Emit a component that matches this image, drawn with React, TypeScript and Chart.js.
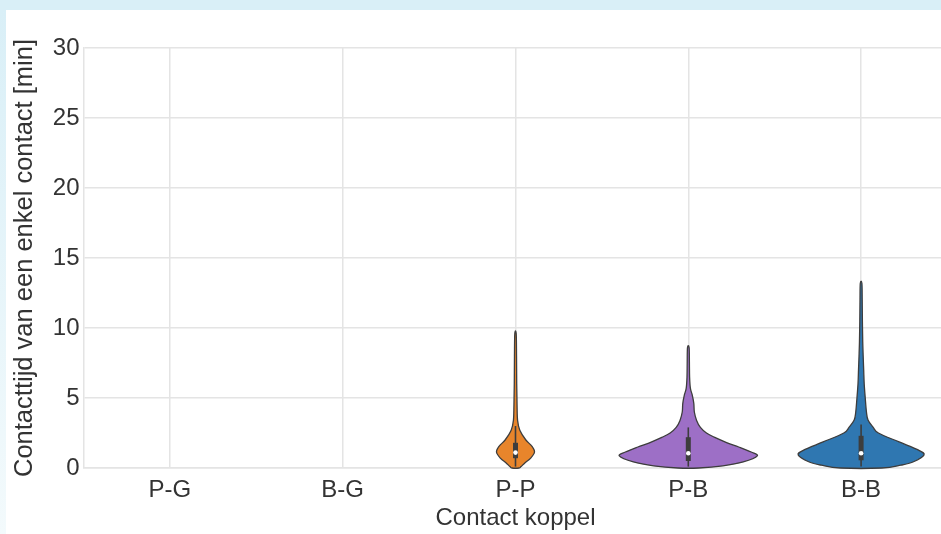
import React, { useEffect, useRef } from 'react';
import { Chart, registerables } from 'chart.js';

Chart.register(...registerables);

// ---- data ----
const categories = ['P-G', 'B-G', 'P-P', 'P-B', 'B-B'];
const yMin = 0;
const yMax = 30;
const yStep = 5;

// Violin outlines: values (min) and half-widths (fraction of category spacing)
const ppValues = [0.0, 0.1, 0.36, 0.71, 1.14, 1.57, 2.0, 2.7, 3.4, 4.5, 6.0, 8.0, 9.6];
const ppHalfWidth = [0.02, 0.032, 0.054, 0.088, 0.11, 0.094, 0.06, 0.025, 0.012, 0.009, 0.007, 0.006, 0.004];
const ppBox = [0.1, 0.7, 1.1, 1.8, 3.0]; // whisker low, q1, median, q3, whisker high

const pbValues = [0.0, 0.15, 0.43, 0.86, 1.14, 1.5, 1.8, 2.2, 2.5, 2.9, 3.4, 4.0, 4.6, 5.2, 5.7, 6.5, 7.5, 8.6];
const pbHalfWidth = [0.06, 0.2, 0.318, 0.399, 0.364, 0.292, 0.225, 0.15, 0.105, 0.07, 0.048, 0.035, 0.032, 0.023, 0.012, 0.0075, 0.0064, 0.0046];
const pbBox = [0.1, 0.5, 1.05, 2.2, 2.9];

const bbValues = [0.0, 0.2, 0.43, 0.93, 1.29, 1.86, 2.5, 2.9, 3.43, 4.0, 5.0, 6.0, 7.0, 8.0, 9.0, 10.5, 12.0, 13.2];
const bbHalfWidth = [0.12, 0.23, 0.3, 0.364, 0.33, 0.22, 0.1, 0.07, 0.04, 0.031, 0.024, 0.018, 0.015, 0.012, 0.0095, 0.0075, 0.0064, 0.0046];
const bbBox = [0.1, 0.55, 1.05, 2.3, 3.1];

const ppColor = '#e8852b';
const pbColor = '#9d6fc6';
const bbColor = '#2f77b1';

const violins = [
  { cat: 'P-P', values: ppValues, widths: ppHalfWidth, box: ppBox, color: ppColor },
  { cat: 'P-B', values: pbValues, widths: pbHalfWidth, box: pbBox, color: pbColor },
  { cat: 'B-B', values: bbValues, widths: bbHalfWidth, box: bbBox, color: bbColor },
];

const FONT = "'Liberation Sans', Arial, Helvetica, sans-serif";
const TEXT = '#333333';
const GRID = '#e4e4e4';
const EDGE = '#3d3d3d';

function smoothClosed(ctx: CanvasRenderingContext2D, pts: number[][]) {
  const n = pts.length;
  ctx.moveTo(pts[0][0], pts[0][1]);
  for (let i = 0; i < n; i++) {
    const p0 = pts[(i - 1 + n) % n];
    const p1 = pts[i];
    const p2 = pts[(i + 1) % n];
    const p3 = pts[(i + 2) % n];
    const c1x = p1[0] + (p2[0] - p0[0]) / 6;
    const c1y = p1[1] + (p2[1] - p0[1]) / 6;
    const c2x = p2[0] - (p3[0] - p1[0]) / 6;
    const c2y = p2[1] - (p3[1] - p1[1]) / 6;
    ctx.bezierCurveTo(c1x, c1y, c2x, c2y, p2[0], p2[1]);
  }
  ctx.closePath();
}

const violinPlugin = {
  id: 'violins',
  afterDatasetsDraw(chart: any) {
    const xs = chart.scales.x;
    const ys = chart.scales.y;
    const ctx: CanvasRenderingContext2D = chart.ctx;
    const unit = xs.getPixelForValue(1) - xs.getPixelForValue(0);
    ctx.save();
    violins.forEach((v) => {
      const cx = xs.getPixelForValue(categories.indexOf(v.cat));
      const right = v.values.map((val, i) => [cx + v.widths[i] * unit, ys.getPixelForValue(val)]);
      const left = v.values.map((val, i) => [cx - v.widths[i] * unit, ys.getPixelForValue(val)]).reverse();
      const pts = right.concat(left);
      ctx.beginPath();
      smoothClosed(ctx, pts);
      ctx.fillStyle = v.color;
      ctx.fill();
      ctx.lineWidth = 1.3;
      ctx.strokeStyle = EDGE;
      ctx.lineJoin = 'round';
      ctx.stroke();

      // inner box
      const [wLo, q1, med, q3, wHi] = v.box;
      ctx.strokeStyle = EDGE;
      ctx.lineCap = 'butt';
      ctx.lineWidth = 1.6;
      ctx.beginPath();
      ctx.moveTo(cx, ys.getPixelForValue(wLo));
      ctx.lineTo(cx, ys.getPixelForValue(wHi));
      ctx.stroke();
      ctx.lineWidth = 5;
      ctx.beginPath();
      ctx.moveTo(cx, ys.getPixelForValue(q1));
      ctx.lineTo(cx, ys.getPixelForValue(q3));
      ctx.stroke();
      ctx.fillStyle = '#ffffff';
      ctx.beginPath();
      ctx.arc(cx, ys.getPixelForValue(med), 2.3, 0, Math.PI * 2);
      ctx.fill();
    });
    ctx.restore();
  },
};

export default function App() {
  const ref = useRef<HTMLCanvasElement>(null);

  useEffect(() => {
    if (!ref.current) return;
    const chart = new Chart(ref.current, {
      type: 'bar',
      data: {
        labels: categories,
        datasets: [{ data: categories.map(() => null) as any }],
      },
      options: {
        animation: false,
        responsive: false,
        layout: { padding: { top: 48, right: 12.5, left: 0, bottom: 0 } },
        plugins: { legend: { display: false }, tooltip: { enabled: false } },
        scales: {
          x: {
            type: 'category',
            offset: true,
            grid: { offset: false, color: GRID, lineWidth: 1.5, drawTicks: false },
            border: { display: true, color: GRID, width: 1.5 },
            ticks: { color: TEXT, font: { family: FONT, size: 24 }, padding: 8 },
            title: {
              display: true,
              text: 'Contact koppel',
              color: TEXT,
              font: { family: FONT, size: 24 },
              padding: { top: 0, bottom: 1 },
            },
            afterFit: (s: any) => {
              s.height = 66;
            },
          },
          y: {
            min: yMin,
            max: yMax,
            ticks: { stepSize: yStep, color: TEXT, font: { family: FONT, size: 24 }, padding: 4 },
            grid: { color: GRID, lineWidth: 1.5, drawTicks: false },
            border: { display: true, color: GRID, width: 1.5 },
            title: {
              display: true,
              text: 'Contacttijd van een enkel contact [min]',
              color: TEXT,
              font: { family: FONT, size: 25.5 },
              padding: { top: 10, bottom: 0 },
            },
            afterFit: (s: any) => {
              s.width = 83.5;
            },
          },
        },
      },
      plugins: [violinPlugin],
    });
    return () => chart.destroy();
  }, []);

  return (
    <div
      style={{
        position: 'fixed',
        left: 0,
        top: 0,
        width: 941,
        height: 534,
        overflow: 'hidden',
        background: '#d9eff7',
      }}
    >
      <div
        style={{
          position: 'absolute',
          left: 0,
          top: 10,
          width: 6,
          height: 524,
          background: 'linear-gradient(#d9eff7, #f3fafc)',
        }}
      />
      <div
        style={{
          position: 'absolute',
          left: 6,
          top: 10,
          width: 935,
          height: 524,
          background: '#ffffff',
        }}
      />
      <canvas
        ref={ref}
        width={960}
        height={534}
        style={{ position: 'absolute', left: 0, top: 0, width: 960, height: 534 }}
      />
    </div>
  );
}
